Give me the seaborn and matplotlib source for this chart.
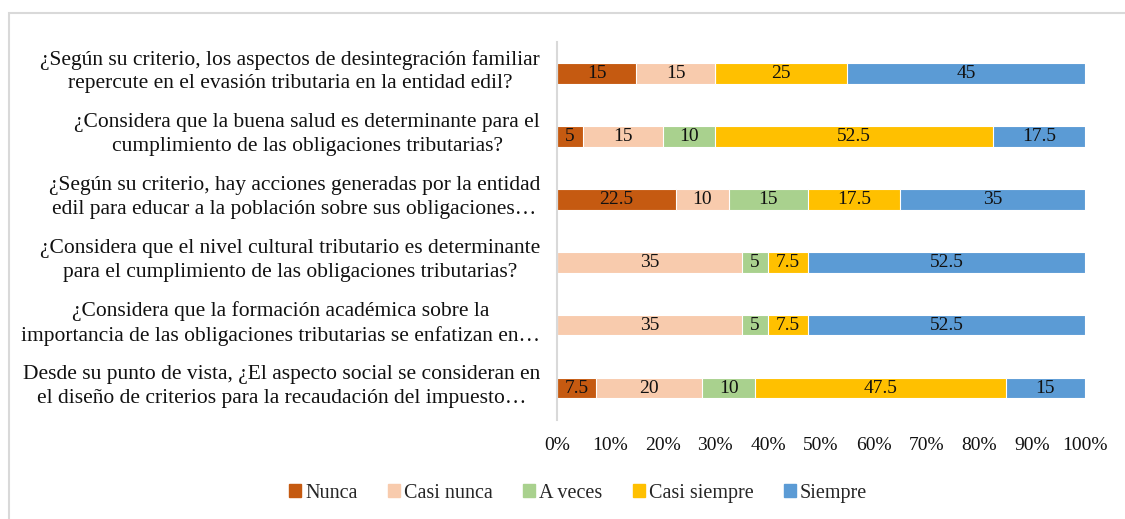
import matplotlib.pyplot as plt
import matplotlib.patches as mpatches
import matplotlib.transforms as mtransforms
import seaborn as sns
import numpy as np
import pandas as pd

questions = [
    "¿Según su criterio, los aspectos de desintegración familiar\nrepercute en el evasión tributaria en la entidad edil?",
    "¿Considera que la buena salud es determinante para el\ncumplimiento de las obligaciones tributarias?",
    "¿Según su criterio, hay acciones generadas por la entidad\nedil para educar a la población sobre sus obligaciones…",
    "¿Considera que el nivel cultural tributario es determinante\npara el cumplimiento de las obligaciones tributarias?",
    "¿Considera que la formación académica sobre la\nimportancia de las obligaciones tributarias se enfatizan en…",
    "Desde su punto de vista, ¿El aspecto social se consideran en\nel diseño de criterios para la recaudación del impuesto…",
]
categories = ["Nunca", "Casi nunca", "A veces", "Casi siempre", "Siempre"]
nunca = [15, 5, 22.5, 0, 0, 7.5]
casi_nunca = [15, 15, 10, 35, 35, 20]
a_veces = [0, 10, 15, 5, 5, 10]
casi_siempre = [25, 52.5, 17.5, 7.5, 7.5, 47.5]
siempre = [45, 17.5, 35, 52.5, 52.5, 15]
colors = ["#C55A11", "#F8CBAD", "#A9D18E", "#FFC000", "#5B9BD5"]

df = pd.DataFrame({"Pregunta": questions, "Nunca": nunca, "Casi nunca": casi_nunca,
                   "A veces": a_veces, "Casi siempre": casi_siempre, "Siempre": siempre})
cum = df[categories].cumsum(axis=1)

sns.set_theme(style="white")
plt.rcParams["font.family"] = ["Liberation Serif", "DejaVu Serif"]

fig = plt.figure(figsize=(11.25, 5.19), dpi=100)
ax = fig.add_axes([0.495, 0.191, 0.4695, 0.728])

# draw cumulative layers from the total down so each segment shows
for cat, col in reversed(list(zip(categories, colors))):
    sns.barplot(x=cum[cat], y=df["Pregunta"], orient="h", color=col, width=0.32,
                edgecolor="white", linewidth=0.8, ax=ax, saturation=1)

# segment labels
for i, q in enumerate(questions):
    left = 0
    for cat in categories:
        v = df.loc[i, cat]
        if v > 0:
            ax.text(left + v / 2, i, f"{v:g}", ha="center", va="center",
                    fontsize=14, color="#111111")
        left += v

ax.set_xlim(0, 100)
ax.set_ylim(5.5, -0.5)
ax.set_xticks(np.arange(0, 101, 10))
ax.set_xticklabels([f"{t}%" for t in range(0, 101, 10)], fontsize=14, color="#111111")
ax.tick_params(axis="x", length=0, pad=12)
ax.tick_params(axis="y", length=0, pad=12, labelsize=15.5, labelcolor="#111111")
shift = mtransforms.ScaledTranslation(0, 0.065, fig.dpi_scale_trans)
for t in ax.get_yticklabels():
    t.set_multialignment("center")
    t.set_linespacing(1.3)
    t.set_transform(t.get_transform() + shift)
ax.set_xlabel("")
ax.set_ylabel("")
for s in ["top", "right", "bottom"]:
    ax.spines[s].set_visible(False)
ax.spines["left"].set_color("#D9D9D9")
ax.spines["left"].set_linewidth(1.5)

handles = [mpatches.Patch(color=c, label=l) for l, c in zip(categories, colors)]
fig.legend(handles=handles, loc="center", bbox_to_anchor=(0.514, 0.05), ncol=5,
           frameon=False, fontsize=14.5, handlelength=0.6, handleheight=0.6,
           handletextpad=0.2, columnspacing=1.5)

# outer chart border (only top and left visible in the crop)
fig.patches.append(mpatches.Rectangle((9 / 1125, -0.1), 1.2, 1.1 - 13 / 519,
                                      transform=fig.transFigure, fill=False,
                                      edgecolor="#D9D9D9", linewidth=1.5))

fig.savefig("out.png", dpi=100)
